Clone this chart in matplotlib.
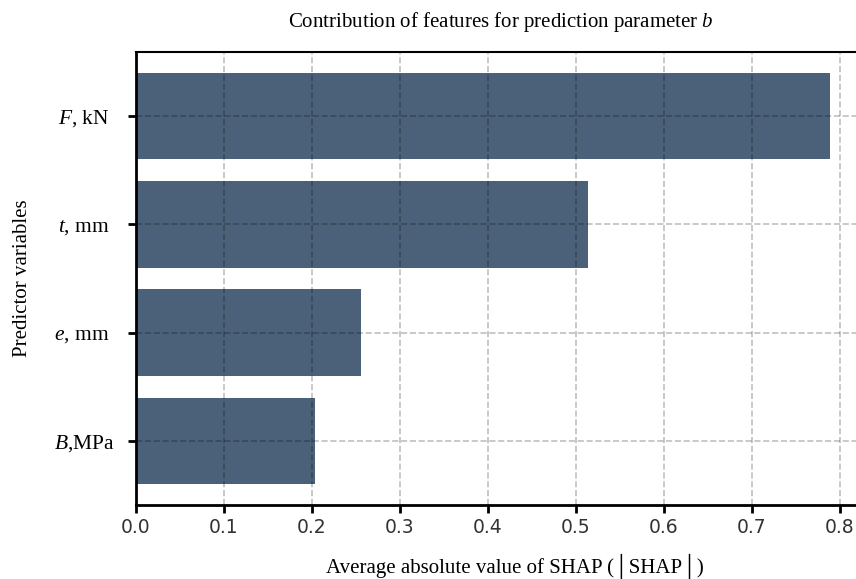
import matplotlib
matplotlib.use("Agg")
import matplotlib.pyplot as plt

# SHAP importance per predictor (bottom to top)
features = [r"$B$,MPa", r"$e$, mm  ", r"$t$, mm  ", r"$F$, kN  "]
shap_vals = [0.2035, 0.256, 0.5135, 0.789]
xticks = [0.0, 0.1, 0.2, 0.3, 0.4, 0.5, 0.6, 0.7, 0.8]

plt.rcParams['mathtext.fontset'] = 'custom'
plt.rcParams['mathtext.rm'] = 'Liberation Serif'
plt.rcParams['mathtext.it'] = 'Liberation Serif:italic'

serif = ['Liberation Serif', 'DejaVu Sans']

fig = plt.figure(figsize=(8.56, 5.79), dpi=100)
ax = fig.add_axes([136 / 856, 74 / 579, 729 / 856, 453 / 579])

ax.barh(range(len(features)), shap_vals, height=0.8, color='#4b6179')

ax.set_xlim(0, 0.8285)
ax.set_xticks(xticks)
ax.set_xticklabels([f"{v:.1f}" for v in xticks], fontsize=13.5,
                   family='DejaVu Sans', color='#333333')
ax.set_yticks(range(len(features)))
ax.set_yticklabels(features, fontsize=15.5, family='Liberation Serif')

ax.grid(True, linestyle='--', color='black', alpha=0.25, linewidth=1.2)
ax.set_axisbelow(False)

for s in ['left', 'bottom']:
    ax.spines[s].set_linewidth(2)
ax.spines['top'].set_linewidth(1.5)
ax.spines['right'].set_visible(False)
ax.tick_params(axis='both', width=2, length=6, color='black')
ax.tick_params(axis='y', pad=9)

ax.set_title(r"Contribution of features for prediction parameter $b$",
             fontsize=15, family=serif, pad=18)
ax.set_xlabel("Average absolute value of SHAP (\u2502SHAP\u2502)",
              fontsize=15, family=serif, labelpad=12)
ax.xaxis.label.set_x(0.52)
ax.set_ylabel("Predictor variables", fontsize=15, family=serif, labelpad=16)

plt.savefig("out.png", dpi=100)
